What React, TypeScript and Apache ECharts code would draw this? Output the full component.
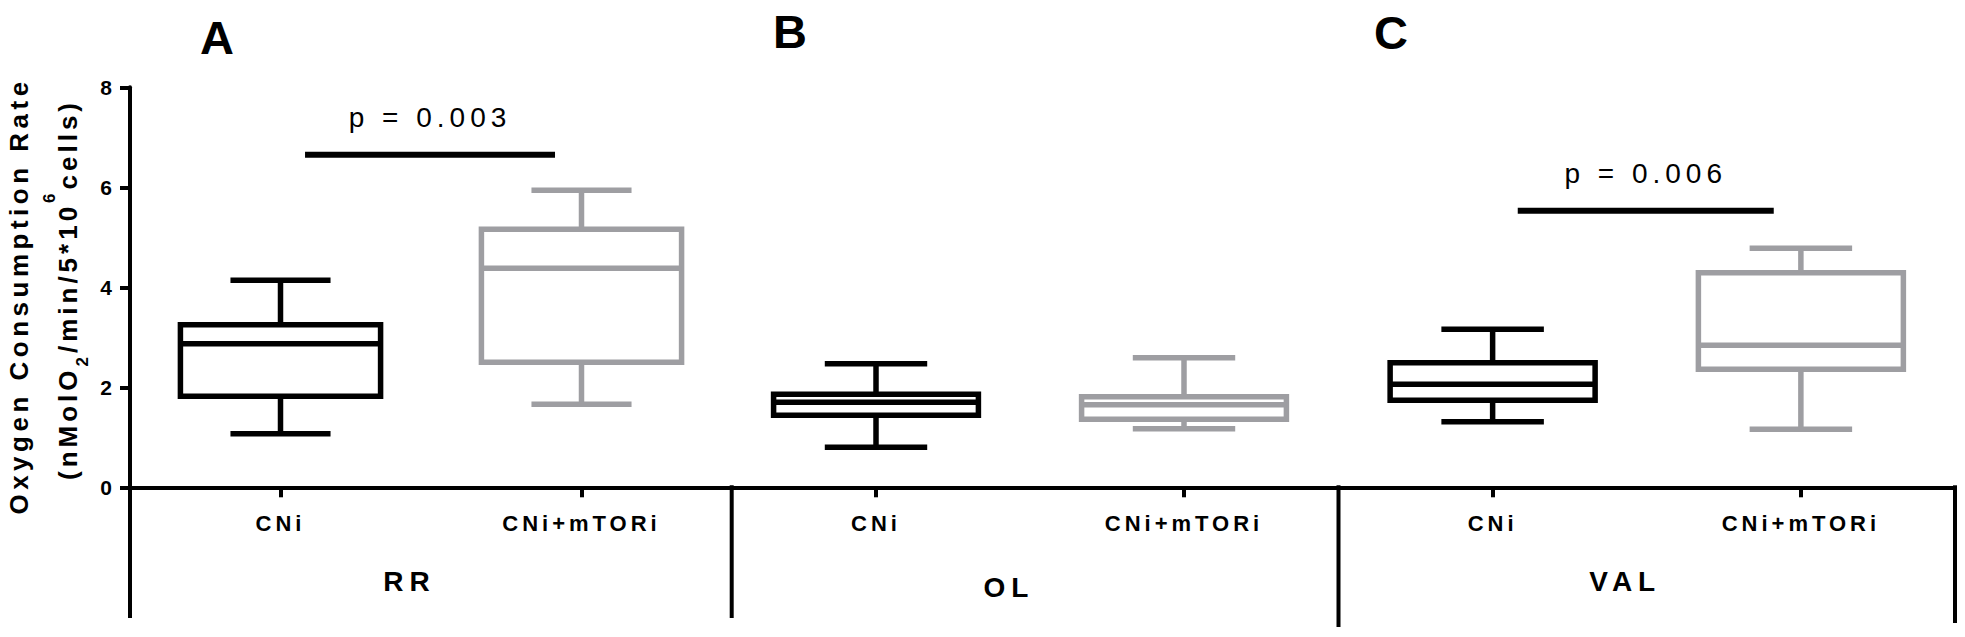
import React, { useEffect, useRef } from 'react';
import * as echarts from 'echarts';

// ---------------- data ----------------
const groups = ['RR', 'OL', 'VAL'];
const panelLetters = ['A', 'B', 'C'];
const treatments = ['CNi', 'CNi+mTORi'];
// box summaries: [min, Q1, median, Q3, max]
const rrCNi = [1.07, 1.82, 2.87, 3.25, 4.14];
const rrCNiMTORi = [1.66, 2.5, 4.38, 5.16, 5.94];
const olCNi = [0.8, 1.44, 1.7, 1.86, 2.47];
const olCNiMTORi = [1.17, 1.36, 1.65, 1.81, 2.59];
const valCNi = [1.31, 1.74, 2.06, 2.49, 3.16];
const valCNiMTORi = [1.16, 2.36, 2.84, 4.29, 4.78];
const yMin = 0;
const yMax = 8;
const yInterval = 2;
const pLabels = ['p = 0.003', null, 'p = 0.006'];
const pBarLevels = [6.65, null, 5.53];
const yTitleLine1 = 'Oxygen Consumption Rate';
const yTitleLine2 = [
  { text: '(nMolO', role: 'base' },
  { text: '2', role: 'sub' },
  { text: '/min/5*10', role: 'base' },
  { text: '6', role: 'sup' },
  { text: 'cells)', role: 'base' },
];

// ---------------- styles / layout ----------------
const FONT = 'Liberation Sans';
const BOX_COLORS = ['#000000', '#9e9ea2'];
const LW = 5.5;
const GRID_TOP = 87.3;
const GRID_H = 400;
const gridDefs = [
  { left: 130, width: 602 },
  { left: 722, width: 616 },
  { left: 1338.5, width: 616.5 },
];
const nameGaps = [80, 86, 80];
const namePads = [43, 42, 43];
const letterPos = [
  [217, 37.5],
  [790, 31.5],
  [1391, 32.5],
];
const dividers = [
  [130, 618],
  [731.7, 618],
  [1338.5, 627],
  [1955, 623],
];

const SPACING: Record<string, number> = {
  CNi: 4,
  'CNi+mTORi': 4,
  RR: 6,
  OL: 6,
  VAL: 6,
  'p = 0.003': 5,
  'p = 0.006': 5,
  'Oxygen Consumption Rate': 4.5,
  '(nMolO': 4,
  '/min/5*10': 4,
  'cells)': 4,
};

const baseFont = `bold 26px "${FONT}"`;
const smallFont = `bold 17px "${FONT}"`;

function measure(text: string, font: string, spacing: number) {
  const c = document.createElement('canvas').getContext('2d');
  if (!c) return text.length * 15;
  c.font = font;
  return c.measureText(text).width + spacing * text.length;
}

function applySpacing(root: HTMLElement | null) {
  if (!root) return;
  root.querySelectorAll('text').forEach((el) => {
    const t = el.textContent || '';
    const s = SPACING[t];
    if (s) el.setAttribute('letter-spacing', String(s));
  });
}

function boxRender(params: any, api: any) {
  const cat = api.value(0);
  const band = api.size([1, 0])[0];
  const cx = api.coord([cat, 0])[0];
  const Y = (i: number) => api.coord([cat, api.value(i)])[1];
  const yLo = Y(1);
  const yQ1 = Y(2);
  const yMed = Y(3);
  const yQ3 = Y(4);
  const yHi = Y(5);
  const bw = band * 0.665;
  const cw = bw / 2;
  const color = BOX_COLORS[cat];
  const st = { stroke: color, lineWidth: LW, fill: null };
  return {
    type: 'group',
    children: [
      { type: 'line', shape: { x1: cx, y1: yQ3, x2: cx, y2: yHi }, style: st },
      { type: 'line', shape: { x1: cx, y1: yQ1, x2: cx, y2: yLo }, style: st },
      { type: 'line', shape: { x1: cx - cw / 2, y1: yHi, x2: cx + cw / 2, y2: yHi }, style: st },
      { type: 'line', shape: { x1: cx - cw / 2, y1: yLo, x2: cx + cw / 2, y2: yLo }, style: st },
      {
        type: 'rect',
        shape: { x: cx - bw / 2, y: yQ3, width: bw, height: yQ1 - yQ3 },
        style: { fill: '#ffffff', stroke: color, lineWidth: LW },
      },
      { type: 'line', shape: { x1: cx - bw / 2, y1: yMed, x2: cx + bw / 2, y2: yMed }, style: st },
    ],
  };
}

function makePRender(label: string) {
  return (params: any, api: any) => {
    const level = api.value(2);
    const p1 = api.coord([api.value(0), level]);
    const p2 = api.coord([api.value(1), level]);
    const band = api.size([1, 0])[0];
    const x1 = p1[0] + band * 0.0815;
    const x2 = p2[0] - band * 0.088;
    return {
      type: 'group',
      children: [
        {
          type: 'line',
          shape: { x1, y1: p1[1], x2, y2: p1[1] },
          style: { stroke: '#000', lineWidth: 6 },
        },
        {
          type: 'text',
          style: {
            text: label,
            x: (x1 + x2) / 2,
            y: p1[1] - 37.5,
            font: `28px "${FONT}"`,
            fill: '#000',
            align: 'center',
            verticalAlign: 'middle',
            textAlign: 'center',
            textVerticalAlign: 'middle',
          },
        },
      ],
    };
  };
}

function buildOption() {
  const boxData = [
    [rrCNi, rrCNiMTORi],
    [olCNi, olCNiMTORi],
    [valCNi, valCNiMTORi],
  ];

  const grids = gridDefs.map((g) => ({
    left: g.left,
    width: g.width,
    top: GRID_TOP,
    height: GRID_H,
    containLabel: false,
    outerBoundsMode: 'none',
  }));

  const xAxes = groups.map((g, gi) => ({
    type: 'category',
    gridIndex: gi,
    data: treatments,
    axisLine: { show: true, lineStyle: { color: '#000', width: 4 } },
    axisTick: { show: true, alignWithLabel: true, interval: 0, length: 10, lineStyle: { color: '#000', width: 4 } },
    axisLabel: { color: '#000', fontFamily: FONT, fontWeight: 'bold', fontSize: 22, margin: 25, interval: 0 },
    splitLine: { show: false },
    name: g,
    nameLocation: 'middle',
    nameGap: nameGaps[gi],
    nameTextStyle: {
      color: '#000',
      fontFamily: FONT,
      fontWeight: 'bold',
      fontSize: 28,
      padding: [0, namePads[gi], 0, 0],
    },
  }));

  const yAxes = groups.map((g, gi) =>
    gi === 0
      ? {
          type: 'value',
          gridIndex: 0,
          min: yMin,
          max: yMax,
          interval: yInterval,
          axisLine: { show: true, lineStyle: { color: '#000', width: 4 } },
          axisTick: { show: true, length: 10, lineStyle: { color: '#000', width: 4 } },
          axisLabel: { color: '#000', fontFamily: FONT, fontWeight: 'bold', fontSize: 21, margin: 18 },
          splitLine: { show: false },
        }
      : { type: 'value', gridIndex: gi, min: yMin, max: yMax, interval: yInterval, show: false },
  );

  const series: any[] = [];
  groups.forEach((g, gi) => {
    series.push({
      type: 'custom',
      name: g,
      xAxisIndex: gi,
      yAxisIndex: gi,
      renderItem: boxRender,
      encode: { x: 0, y: [1, 2, 3, 4, 5] },
      data: boxData[gi].map((v, ci) => [ci, ...v]),
      silent: true,
    });
    const lvl = pBarLevels[gi];
    const lab = pLabels[gi];
    if (lvl != null && lab) {
      series.push({
        type: 'custom',
        name: g + ' p',
        xAxisIndex: gi,
        yAxisIndex: gi,
        renderItem: makePRender(lab),
        encode: { x: [0, 1], y: 2 },
        data: [[0, 1, lvl]],
        silent: true,
      });
    }
  });

  // y-axis title layout
  const s1 = SPACING[yTitleLine1];
  const widths = yTitleLine2.map((t) =>
    measure(t.text, t.role === 'base' ? baseFont : smallFont, 4),
  );
  const total = widths.reduce((a, b) => a + b, 0) - 4;
  let cursor = -total / 2;
  const line2Children = yTitleLine2.map((t, i) => {
    const x = cursor;
    cursor += widths[i];
    const dy = t.role === 'sub' ? 15 : t.role === 'sup' ? -18 : 0;
    return {
      type: 'text',
      style: {
        text: t.text,
        x,
        y: dy,
        font: t.role === 'base' ? baseFont : smallFont,
        fill: '#000',
        align: 'left',
        verticalAlign: 'middle',
        textAlign: 'left',
        textVerticalAlign: 'middle',
      },
    };
  });

  const graphic: any[] = [
    ...panelLetters.map((l, i) => ({
      type: 'text',
      x: letterPos[i][0],
      y: letterPos[i][1],
      style: {
        text: l,
        font: `bold 47px "${FONT}"`,
        fill: '#000',
        align: 'center',
        verticalAlign: 'middle',
        textAlign: 'center',
        textVerticalAlign: 'middle',
      },
    })),
    {
      type: 'text',
      x: 19.3 + s1 * 0,
      y: 296,
      rotation: Math.PI / 2,
      style: {
        text: yTitleLine1,
        font: baseFont,
        fill: '#000',
        align: 'center',
        verticalAlign: 'middle',
        textAlign: 'center',
        textVerticalAlign: 'middle',
      },
    },
    {
      type: 'group',
      x: 67.7,
      y: 291.5,
      rotation: Math.PI / 2,
      children: line2Children,
    },
    ...dividers.map(([x, yb]) => ({
      type: 'line',
      shape: { x1: x, y1: GRID_TOP + GRID_H - 2, x2: x, y2: yb },
      style: { stroke: '#000', lineWidth: 4 },
    })),
  ];

  return {
    animation: false,
    backgroundColor: '#ffffff',
    textStyle: { fontFamily: FONT },
    grid: grids,
    xAxis: xAxes,
    yAxis: yAxes,
    series,
    graphic,
  };
}

export default function App() {
  const ref = useRef<HTMLDivElement>(null);
  useEffect(() => {
    document.body.style.margin = '0';
    const el = ref.current;
    if (!el) return;
    const chart = echarts.init(el, null, { renderer: 'svg' });
    chart.setOption(buildOption() as any);
    applySpacing(el);
    const onFinished = () => applySpacing(el);
    chart.on('finished', onFinished);
    const raf = requestAnimationFrame(() => applySpacing(el));
    const tm = setTimeout(() => applySpacing(el), 50);
    return () => {
      cancelAnimationFrame(raf);
      clearTimeout(tm);
      chart.off('finished', onFinished);
      chart.dispose();
    };
  }, []);
  return <div ref={ref} style={{ width: 1965, height: 637 }} />;
}
